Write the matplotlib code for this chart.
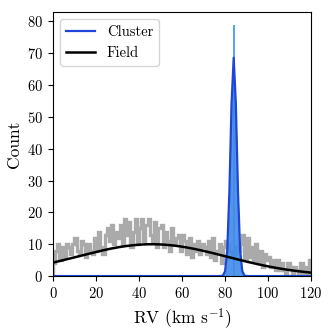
import numpy as np
import matplotlib
matplotlib.use("Agg")
import matplotlib.pyplot as plt

plt.rcParams['font.family'] = 'serif'
plt.rcParams['font.serif'] = ['cmr10']
plt.rcParams['mathtext.fontset'] = 'cm'
plt.rcParams['axes.formatter.use_mathtext'] = True

# Data
bin_edges = np.arange(0, 121, 1)
field_counts = [4, 8, 10, 5, 9, 6, 10, 9, 7, 10,
                12, 8, 7, 11, 10, 6, 10, 8, 7, 12,
                8, 14, 9, 7, 13, 15, 11, 16, 10, 14,
                12, 16, 10, 18, 13, 17, 9, 14, 18, 10,
                15, 18, 11, 16, 18, 13, 11, 17, 9, 15,
                16, 9, 14, 11, 8, 15, 10, 12, 13, 8,
                13, 11, 7, 12, 6, 10, 8, 11, 7, 10,
                9, 7, 11, 6, 12, 5, 8, 10, 4, 9,
                11, 10, 8, 6, 7, 9, 8, 10, 13, 5,
                12, 6, 9, 5, 10, 4, 8, 3, 7, 5,
                6, 3, 5, 2, 5, 2, 4, 2, 1, 4,
                3, 1, 3, 2, 1, 4, 1, 3, 1, 5]
cluster_peak_rv = 84.2
cluster_peak_count = 79
cluster_amp, cluster_mu, cluster_sigma = 68.6, 84.0, 1.45
field_amp, field_mu, field_sigma = 10.0, 46.0, 35.0

fig = plt.figure(figsize=(3.31, 3.31), dpi=100)
ax = fig.add_axes([0.16, 0.166, 0.78, 0.798])

ax.stairs(field_counts, bin_edges, color='#aaaaaa', linewidth=2.4)

x = np.arange(0, 121, 1.0)
cl = cluster_amp * np.exp(-0.5 * ((x - cluster_mu) / cluster_sigma) ** 2)
xf = np.linspace(0, 120, 601)
fd = field_amp * np.exp(-0.5 * ((xf - field_mu) / field_sigma) ** 2)

ax.bar(cluster_peak_rv, cluster_peak_count, width=0.7, color='#56a5f5', linewidth=0)
ax.fill_between(x, 0, cl, color='#3f8be8', alpha=0.9, linewidth=0)
ax.plot(x, cl, color='#1f45d6', linewidth=1.6, label='Cluster')
ax.plot(xf, fd, color='black', linewidth=1.8, label='Field')

ax.set_xlim(0, 120)
ax.set_ylim(0, 83)
ax.set_xticks([0, 20, 40, 60, 80, 100, 120])
ax.set_yticks([0, 10, 20, 30, 40, 50, 60, 70, 80])
ax.tick_params(labelsize=10.5)
ax.set_xlabel(r'RV (km s$^{-1}$)', fontsize=12.5)
ax.set_ylabel('Count', fontsize=12.5)
ax.legend(loc='upper left', fontsize=10.5)

fig.savefig('out.png', dpi=100)
